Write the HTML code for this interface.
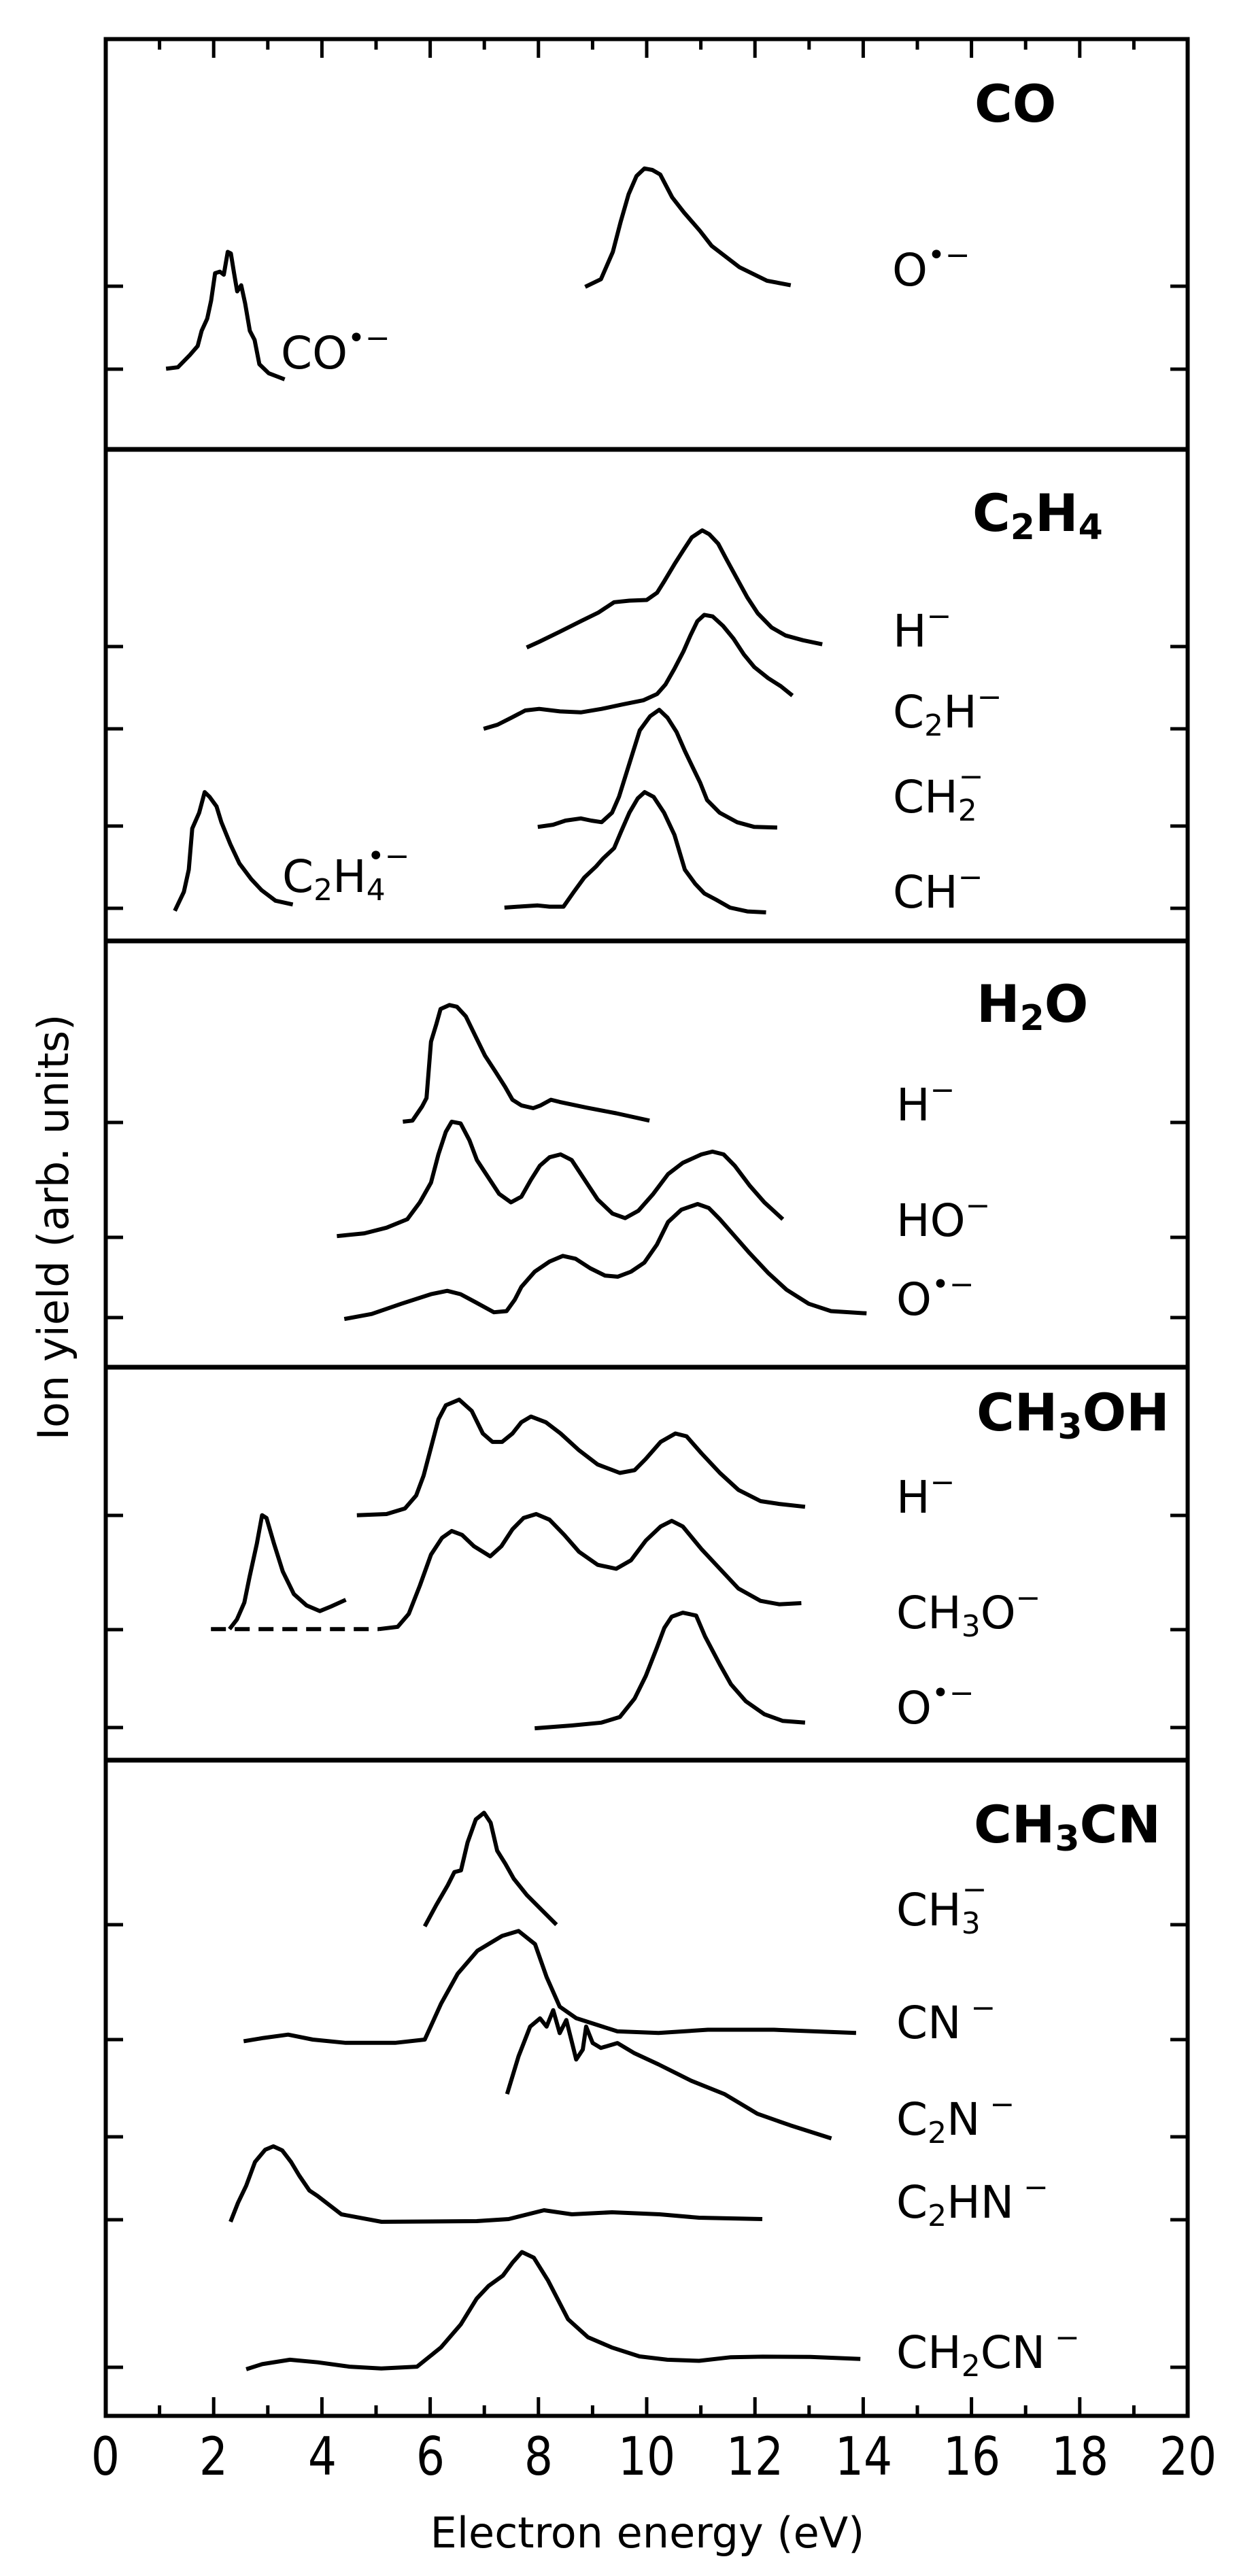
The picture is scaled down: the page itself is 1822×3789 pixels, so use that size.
<!DOCTYPE html>
<html><head><meta charset="utf-8"><style>
html,body{margin:0;padding:0;background:#fff}
svg{display:block}
text{font-family:"DejaVu Sans","Liberation Sans",sans-serif;fill:#000}
.ion{font-size:66px}
.bold{font-size:76px;font-weight:bold}
.tick{font-size:78px}
.ax{font-size:62px}
</style></head><body>
<svg id="s" width="1822" height="3789" viewBox="0 0 1822 3789" xmlns="http://www.w3.org/2000/svg">
<rect x="0" y="0" width="1822" height="3789" fill="#fff"/>
<g id="curves" fill="none" stroke="#000" stroke-width="6" stroke-linejoin="round" stroke-linecap="butt"></g>
<g id="ticks" stroke="#000" stroke-width="5"></g>
<rect x="155.5" y="57.5" width="1591" height="3496" fill="none" stroke="#000" stroke-width="6"/>
<g stroke="#000" stroke-width="7">
<line x1="155" y1="661" x2="1747" y2="661"/>
<line x1="155" y1="1384" x2="1747" y2="1384"/>
<line x1="155" y1="2011" x2="1747" y2="2011"/>
<line x1="155" y1="2589" x2="1747" y2="2589"/>
</g>
<!-- panel labels -->
<text class="bold" x="1433" y="179">CO</text>
<text class="bold" x="1430" y="781">C<tspan font-size="52" dy="12">2</tspan><tspan dy="-12">H</tspan><tspan font-size="52" dy="12">4</tspan></text>
<text class="bold" x="1436" y="1503">H<tspan font-size="52" dy="12">2</tspan><tspan dy="-12">O</tspan></text>
<text class="bold" x="1436" y="2104">CH<tspan font-size="52" dy="12">3</tspan><tspan dy="-12">OH</tspan></text>
<text class="bold" x="1432" y="2710">CH<tspan font-size="52" dy="12">3</tspan><tspan dy="-12">CN</tspan></text>
<!-- ion labels -->
<text class="ion" x="1312" y="420">O<tspan font-size="44" dy="-30">•−</tspan></text>
<text class="ion" x="413" y="542">CO<tspan font-size="44" dy="-30">•−</tspan></text>
<text class="ion" x="1313" y="951">H<tspan font-size="44" dy="-30">−</tspan></text>
<text class="ion" x="1313" y="1070">C<tspan font-size="44" dy="12">2</tspan><tspan dy="-12">H</tspan><tspan font-size="44" dy="-30">−</tspan></text>
<text class="ion" x="1313" y="1195">CH<tspan font-size="44" dy="12">2</tspan><tspan font-size="44" dx="-27" dy="-50">−</tspan></text>
<text class="ion" x="1313" y="1335">CH<tspan font-size="44" dy="-30">−</tspan></text>
<text class="ion" x="415" y="1312">C<tspan font-size="44" dy="12">2</tspan><tspan dy="-12">H</tspan><tspan font-size="44" dy="12">4</tspan><tspan font-size="44" dx="-27" dy="-50">•−</tspan></text>
<text class="ion" x="1318" y="1648">H<tspan font-size="44" dy="-30">−</tspan></text>
<text class="ion" x="1318" y="1818">HO<tspan font-size="44" dy="-30">−</tspan></text>
<text class="ion" x="1318" y="1934">O<tspan font-size="44" dy="-30">•−</tspan></text>
<text class="ion" x="1318" y="2225">H<tspan font-size="44" dy="-30">−</tspan></text>
<text class="ion" x="1318" y="2395">CH<tspan font-size="44" dy="12">3</tspan><tspan dy="-12">O</tspan><tspan font-size="44" dy="-30">−</tspan></text>
<text class="ion" x="1318" y="2535">O<tspan font-size="44" dy="-30">•−</tspan></text>
<text class="ion" x="1318" y="2832">CH<tspan font-size="44" dy="12">3</tspan><tspan font-size="44" dx="-27" dy="-50">−</tspan></text>
<text class="ion" x="1318" y="2998">CN<tspan font-size="44" dy="-30"> −</tspan></text>
<text class="ion" x="1318" y="3140">C<tspan font-size="44" dy="12">2</tspan><tspan dy="-12">N</tspan><tspan font-size="44" dy="-30"> −</tspan></text>
<text class="ion" x="1318" y="3262">C<tspan font-size="44" dy="12">2</tspan><tspan dy="-12">HN</tspan><tspan font-size="44" dy="-30"> −</tspan></text>
<text class="ion" x="1318" y="3483">CH<tspan font-size="44" dy="12">2</tspan><tspan dy="-12">CN</tspan><tspan font-size="44" dy="-30"> −</tspan></text>
<!-- x tick labels -->
<g class="tick" text-anchor="middle">
<text transform="translate(155 3640) scale(0.85 1)">0</text>
<text transform="translate(314 3640) scale(0.85 1)">2</text>
<text transform="translate(474 3640) scale(0.85 1)">4</text>
<text transform="translate(633 3640) scale(0.85 1)">6</text>
<text transform="translate(792 3640) scale(0.85 1)">8</text>
<text transform="translate(951 3640) scale(0.85 1)">10</text>
<text transform="translate(1110 3640) scale(0.85 1)">12</text>
<text transform="translate(1270 3640) scale(0.85 1)">14</text>
<text transform="translate(1429 3640) scale(0.85 1)">16</text>
<text transform="translate(1588 3640) scale(0.85 1)">18</text>
<text transform="translate(1747 3640) scale(0.85 1)">20</text>
</g>
<text class="ax" x="952" y="3747" text-anchor="middle">Electron energy (eV)</text>
<text class="ax" x="100" y="1805" text-anchor="middle" transform="rotate(-90 100 1805)">Ion yield (arb. units)</text>
</svg>
<script>
(function(){
var NS="http://www.w3.org/2000/svg";
var C=document.getElementById('curves'),T=document.getElementById('ticks');
function pl(pts,f,dash){var s=pts.map(function(p){var q=f(p[0],p[1]);return q[0].toFixed(1)+","+q[1].toFixed(1)}).join(" ");
var e=document.createElementNS(NS,"polyline");e.setAttribute("points",s);if(dash)e.setAttribute("stroke-dasharray",dash);C.appendChild(e);}
function ln(x1,y1,x2,y2){var e=document.createElementNS(NS,"line");e.setAttribute("x1",x1);e.setAttribute("y1",y1);e.setAttribute("x2",x2);e.setAttribute("y2",y2);T.appendChild(e);}
var Z2=function(X,Y){return [X/0.86,Y/2.24]};
var Z11=function(X,Y){return [100+X/0.918,1300+Y/1.206]};
var Z12=function(X,Y){return [150+X/0.98,660+Y/2.148]};
var Z1=function(X,Y){return [X/0.856,3200+Y/2.65]};
var P=function(x,y){return [x,y]};
function TH(base,tick){return function(x,y){return [x*2.421,base+(y-tick)*2.42]}}
pl([[740,945],[760,920],[775,830],[785,730],[795,640],[805,580],[815,555],[825,560],[835,575],[850,650],[865,700],[885,760],[900,810],[935,880],[970,925],[1000,940]],Z2);
pl([[210,1215],[225,1210],[240,1170],[250,1140],[255,1090],[262,1050],[267,990],[272,900],[278,895],[283,905],[288,830],[292,835],[296,900],[300,960],[305,940],[310,1000],[316,1090],[322,1120],[328,1200],[340,1230],[360,1250]],Z2);
pl([[612,628],[630,610],[660,578],[690,545],[715,518],[738,485],[760,480],[785,478],[800,455],[810,420],[825,365],[838,320],[850,280],[865,258],[875,270],[888,300],[900,350],[915,410],[930,470],[945,520],[965,565],[985,590],[1010,605],[1038,618]],Z12);
pl([[550,885],[570,872],[590,850],[610,827],[630,822],[660,830],[690,833],[720,822],[750,808],[780,795],[800,775],[812,745],[825,695],[838,640],[848,590],[858,545],[868,525],[880,530],[895,560],[910,600],[925,650],[940,690],[960,725],[978,750],[995,780]],Z12);
pl([[628,1195],[650,1188],[668,1175],[690,1168],[705,1175],[720,1180],[735,1150],[745,1100],[755,1030],[765,960],[775,890],[790,845],[803,825],[815,850],[828,895],[840,955],[852,1010],[862,1055],[872,1110],[890,1150],[915,1180],[940,1195],[973,1197]],Z12);
pl([[580,1450],[605,1446],[628,1443],[645,1447],[665,1447],[680,1400],[695,1355],[712,1320],[722,1295],[738,1262],[748,1210],[760,1150],[772,1105],[782,1085],[795,1100],[810,1150],[825,1220],[840,1330],[855,1375],[868,1405],[885,1425],[905,1450],[930,1462],[957,1465]],Z12);
pl([[105,1460],[118,1400],[125,1330],[130,1200],[140,1150],[148,1085],[155,1100],[165,1130],[172,1180],[185,1250],[198,1310],[215,1360],[230,1395],[250,1428],[275,1440]],Z12);
pl([[452,422],[465,420],[478,395],[484,380],[490,280],[497,250],[503,222],[515,215],[525,218],[537,235],[550,270],[563,305],[577,333],[590,360],[600,383],[612,393],[628,398],[638,393],[652,383],[664,387],[700,397],[740,407],[785,420]],Z11);
pl([[363,625],[400,620],[430,610],[458,595],[475,565],[490,530],[500,480],[510,440],[518,422],[530,425],[542,455],[552,490],[568,522],[582,550],[598,565],[612,555],[625,525],[637,500],[650,485],[665,480],[680,490],[700,530],[715,560],[735,585],[752,593],[770,580],[790,550],[810,515],[830,495],[855,480],[870,475],[885,480],[900,500],[920,535],[940,565],[965,595]],Z11);
pl([[373,772],[410,763],[450,745],[490,728],[512,722],[530,728],[550,742],[575,760],[592,758],[603,738],[612,715],[630,688],[650,670],[668,660],[685,665],[705,682],[725,695],[742,697],[760,688],[778,672],[795,640],[810,600],[828,578],[850,568],[865,575],[880,595],[900,625],[920,655],[945,690],[970,720],[1000,745],[1030,758],[1078,762]],Z11);
pl([[390,1120],[430,1118],[455,1108],[470,1085],[480,1050],[490,1000],[500,950],[510,925],[528,915],[545,935],[560,975],[573,990],[586,990],[600,975],[612,955],[625,945],[645,955],[665,975],[690,1005],[715,1030],[745,1045],[765,1040],[780,1020],[800,990],[820,975],[835,980],[855,1010],[880,1045],[905,1075],[935,1095],[960,1100],[995,1105]],Z11);
pl([[420,1322],[445,1318],[460,1295],[475,1245],[490,1190],[505,1160],[518,1148],[532,1155],[548,1175],[570,1193],[585,1175],[600,1145],[615,1125],[632,1118],[650,1128],[670,1155],[690,1185],[715,1208],[740,1215],[760,1200],[780,1165],[800,1140],[815,1130],[830,1140],[855,1180],[880,1215],[905,1250],[935,1272],[960,1278],[990,1276]],Z11);
pl([[218,1322],[228,1305],[238,1275],[245,1230],[255,1170],[262,1120],[268,1125],[278,1170],[290,1220],[305,1260],[322,1280],[340,1290],[355,1282],[375,1270]],Z11);
pl([[193,1322],[420,1322]],Z11,"22,13");
pl([[630,1498],[680,1493],[720,1488],[745,1478],[765,1445],[780,1405],[795,1355],[805,1320],[815,1300],[830,1293],[848,1298],[860,1335],[880,1385],[895,1420],[915,1450],[940,1473],[965,1485],[995,1488]],Z11);
pl([[258,1171],[265,1158],[272,1146],[276,1138],[280,1137],[284,1120],[289,1106],[294,1102],[298,1108],[302,1125],[307,1133],[312,1142],[320,1152],[329,1161],[338,1170]],TH(2831,1170));
pl([[148,1239],[160,1237],[175,1235],[190,1238],[210,1240],[240,1240],[258,1238],[268,1216],[278,1198],[290,1184],[305,1175],[315,1172],[325,1180],[332,1200],[340,1218],[350,1225],[375,1233],[400,1234],[430,1232],[470,1232],[520,1234]],TH(3000,1238));
pl([[308,1273],[315,1250],[322,1232],[328,1227],[332,1232],[336,1222],[340,1236],[344,1228],[348,1244],[350,1252],[354,1246],[356,1232],[360,1242],[365,1245],[375,1242],[385,1248],[400,1255],[420,1265],[440,1273],[460,1285],[480,1292],[505,1300]],TH(3143,1299));
pl([[339,3268],[350,3240],[362,3215],[375,3180],[390,3162],[402,3157],[415,3163],[428,3180],[440,3200],[455,3222],[467,3230],[502,3257],[561,3268],[701,3267],[748,3264],[800,3251],[841,3257],[900,3254],[970,3257],[1028,3262],[1121,3264]],P);
pl([[310,755],[330,735],[365,718],[400,728],[440,745],[480,752],[525,745],[555,670],[580,580],[600,480],[615,430],[633,390],[645,340],[657,298],[672,320],[690,410],[715,560],[740,630],[770,670],[805,705],[840,718],[880,722],[920,708],[960,706],[1020,707],[1083,715]],Z1);
for(var e=0;e<=20;e++){var x=155+e*79.6;var L=(e%2==0)?28:16;
 if(e>0&&e<20){ln(x,3554,x,3554-L);ln(x,57,x,57+L);}}
[421,543,951,1072,1215,1336,1651,1820,1938,2229,2397,2541,2831,3000,3143,3265,3482].forEach(function(y){ln(155,y,181,y);ln(1721,y,1747,y);});
})();
</script>
</body></html>
